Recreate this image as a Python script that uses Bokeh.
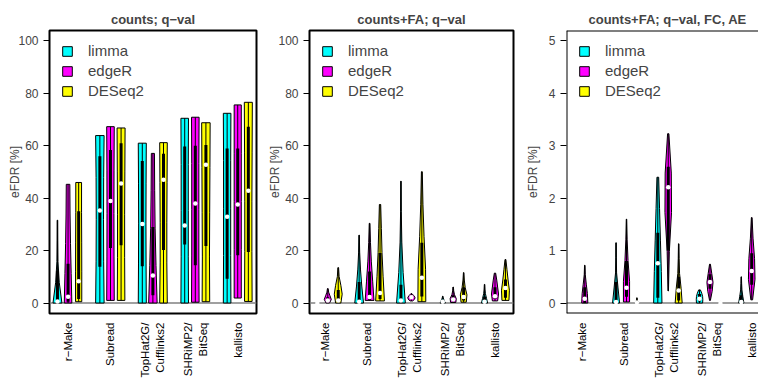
import numpy as np
from bokeh.plotting import figure
from bokeh.models import (ColumnDataSource, Span, Legend, LegendItem, FixedTicker, Range1d)
from bokeh.core.properties import value
from bokeh.layouts import row, column
from bokeh.embed import file_html
from bokeh.resources import INLINE

NAN = np.nan
FONT = "Liberation Sans"

categories = ["r\u2212Make", "Subread", "TopHat2G/\nCufflinks2", "SHRiMP2/\nBitSeq", "kallisto"]
methods = ["limma", "edgeR", "DESeq2"]
colors = ["#00FFFF", "#FF00FF", "#FFFF00"]
titles = ["counts; q\u2212val", "counts+FA; q\u2212val", "counts+FA; q\u2212val, FC, AE"]

# order: for each category -> limma, edgeR, DESeq2
# ---- panel 1: counts; q-val
p1_min = [0, 0, 0.5,   0, 1.0, 1.0,   0, 0, 0,   0, 0.3, 0.5,   0, 1.9, 0.6]
p1_q1 = [0, 0.5, 1.5,  13.8, 21, 22,  14, 3, 20.2,  22.3, 14.4, 21.8,  9.3, 18.2, 19.5]
p1_med = [0.6, 2.4, 8.3,  35.3, 38.9, 45.6,  30.2, 10.5, 47,  29.6, 38, 52.8,  32.9, 37.6, 42.8]
p1_q3 = [12.4, 15, 35,  56, 58.4, 61,  54.2, 29, 57,  59.7, 60, 60.3,  59, 59, 67.3]
p1_max = [31.6, 45.3, 46,  63.9, 67.3, 66.8,  61, 57.1, 61.2,  70.5, 70.9, 68.8,  72.4, 75.6, 76.6]
p1_shape = [
    [1.0, 0.4, 0.12, 0.08, 0.06], [0.85, 0.7, 0.55, 0.45, 0.4], [0.7, 0.7, 0.68, 0.65, 0.65],
    [0.95, 0.85, 0.82, 0.85, 0.95], [0.85, 0.8, 0.78, 0.8, 0.85], [0.85, 0.8, 0.8, 0.85, 0.9],
    [0.9, 0.85, 0.82, 0.85, 0.9], [0.95, 0.7, 0.5, 0.4, 0.35], [0.85, 0.75, 0.75, 0.8, 0.85],
    [0.85, 0.8, 0.8, 0.8, 0.85], [0.85, 0.8, 0.8, 0.8, 0.85], [0.85, 0.8, 0.85, 0.9, 0.95],
    [0.85, 0.8, 0.8, 0.8, 0.85], [0.8, 0.8, 0.8, 0.8, 0.8], [0.85, 0.8, 0.8, 0.85, 0.9],
]

# ---- panel 2: counts+FA; q-val
p2_min = [0, 0, 0,   0, 1.0, 0.8,   0, 0.8, 0.5,   0, 0.2, 0.3,   0, 0.8, 1.0]
p2_q1 = [0, 0.3, 0.3,   0, 1.2, 1.5,   0, 1.5, 2.5,   0, 0.6, 1.0,   0, 1.5, 2.0]
p2_med = [0, 1.0, 1.0,   0.5, 2.3, 3.8,   1.0, 2.2, 9.6,   0.5, 1.3, 2.3,   0.5, 2.6, 5.7]
p2_q3 = [0.1, 2.2, 5.0,   8, 12, 19.1,   7, 2.8, 23,   1.0, 3.0, 6.0,   2.5, 6.0, 9.0]
p2_max = [0.4, 5.5, 13.5,   25.9, 30.4, 37.6,   46.5, 3.6, 50.1,   2.6, 6.1, 11.6,   7.1, 11.4, 16.6]
p2_shape = [
    [0.3, 0.3, 0.2, 0.1, 0.05], [0.4, 0.8, 0.5, 0.2, 0.08], [0.6, 0.9, 0.6, 0.2, 0.08],
    [1.0, 0.6, 0.3, 0.12, 0.05], [1.0, 0.7, 0.4, 0.2, 0.08], [1.0, 0.7, 0.45, 0.3, 0.15],
    [1.0, 0.5, 0.2, 0.08, 0.04], [0.3, 0.75, 0.8, 0.5, 0.1], [0.9, 0.85, 0.5, 0.25, 0.1],
    [0.6, 0.4, 0.25, 0.12, 0.05], [0.6, 0.7, 0.3, 0.12, 0.05], [0.6, 0.75, 0.35, 0.15, 0.05],
    [0.7, 0.45, 0.2, 0.1, 0.05], [0.6, 0.8, 0.6, 0.4, 0.15], [0.8, 0.9, 0.6, 0.35, 0.1],
]

# ---- panel 3: counts+FA; q-val, FC, AE
p3_min = [NAN, 0, NAN,   0, 0.02, 0,   0, 0.23, 0,   0, 0.05, 0,   0, 0.06, NAN]
p3_q1 = [NAN, 0, NAN,   0, 0.12, 0,   0.1, 1.0, 0.05,   0.03, 0.27, 0,   0, 0.35, NAN]
p3_med = [NAN, 0.08, NAN,   0.02, 0.29, 0.01,   0.76, 2.21, 0.24,   0.08, 0.40, 0.0,   0.02, 0.61, NAN]
p3_q3 = [NAN, 0.3, NAN,   0.4, 0.8, 0.03,   1.34, 2.6, 0.5,   0.17, 0.55, 0.01,   0.15, 0.95, NAN]
p3_max = [NAN, 0.72, NAN,   1.15, 1.6, 0.1,   2.4, 3.23, 1.13,   0.25, 0.74, 0.03,   0.5, 1.63, NAN]
p3_shape = [
    None, [0.7, 0.6, 0.35, 0.12, 0.05], None,
    [0.8, 0.45, 0.12, 0.06, 0.04], [0.7, 0.7, 0.35, 0.15, 0.05], [0.4, 0.3, 0.1, 0.05, 0.02],
    [0.95, 0.8, 0.6, 0.4, 0.2], [0.05, 0.25, 0.75, 0.7, 0.15], [0.8, 0.55, 0.2, 0.1, 0.05],
    [0.7, 0.75, 0.7, 0.5, 0.2], [0.1, 0.5, 0.7, 0.4, 0.1], [0.3, 0.3, 0.2, 0.1, 0.05],
    [0.6, 0.35, 0.15, 0.08, 0.04], [0.2, 0.75, 0.65, 0.3, 0.08], None,
]

panels = [
    (p1_min, p1_q1, p1_med, p1_q3, p1_max, p1_shape),
    (p2_min, p2_q1, p2_med, p2_q3, p2_max, p2_shape),
    (p3_min, p3_q1, p3_med, p3_q3, p3_max, p3_shape),
]
y_limits = [(-4, 104), (-4, 104), (-0.2, 5.2)]
y_ticks = [[0, 20, 40, 60, 80, 100], [0, 20, 40, 60, 80, 100], [0, 1, 2, 3, 4, 5]]
HW = 0.42
TOP_B = 30
FRAME_H = 283
STRIP_H = 64
FIG_W = [265, 257, 236]
LEFT_B = [49, 41, 41]
X_END = [19.77, 19.77, 18.65]


def positions():
    return [1 + 4 * c + m for c in range(5) for m in range(3)]


def make_panel(k, xr):
    vmin, q1, med, q3, vmax, shapes = panels[k]
    last = (k == 2)
    y0, y1 = y_limits[k]
    p = figure(width=FIG_W[k], height=TOP_B + FRAME_H + 2, output_backend="svg", toolbar_location=None,
               x_range=xr, y_range=Range1d(y0, y1),
               min_border_left=LEFT_B[k], min_border_right=0 if last else 9,
               min_border_top=TOP_B, min_border_bottom=2)
    p.grid.visible = False
    p.background_fill_color = "white"
    p.border_fill_color = "white"
    if last:
        p.outline_line_color = None
    else:
        p.outline_line_color = "black"
        p.outline_line_width = 2

    p.title.text = titles[k]
    p.title.text_font = FONT
    p.title.text_font_size = "13px"
    p.title.text_font_style = "bold"
    p.title.standoff = 8
    if last:
        p.title.align = "left"
        p.title.offset = 22
    else:
        p.title.align = "center"

    # zero line
    p.add_layout(Span(location=0, dimension="width", line_color="#808080", line_width=1.5, level="underlay"))

    pos = positions()
    rends = []
    for m in range(3):
        xs, ys = [], []
        for c in range(5):
            i = 3 * c + m
            if np.isnan(vmax[i]):
                continue
            w = np.array(shapes[i]) * HW
            yy = np.linspace(vmin[i], vmax[i], len(w))
            xs.append(list(np.concatenate([pos[i] - w, (pos[i] + w)[::-1]])))
            ys.append(list(np.concatenate([yy, yy[::-1]])))
        src = ColumnDataSource(dict(xs=xs, ys=ys))
        r = p.patches("xs", "ys", source=src, fill_color=colors[m], line_color="black", line_width=1)
        rends.append(r)

    idx = [i for i in range(15) if not np.isnan(vmax[i])]
    src = ColumnDataSource(dict(
        x=[pos[i] for i in idx], lo=[vmin[i] for i in idx], hi=[vmax[i] for i in idx],
        q1=[q1[i] for i in idx], q3=[q3[i] for i in idx], med=[med[i] for i in idx]))
    p.segment(x0="x", y0="lo", x1="x", y1="hi", source=src, line_color="black", line_width=1)
    p.segment(x0="x", y0="q1", x1="x", y1="q3", source=src, line_color="black", line_width=3,
              line_cap="butt")
    p.scatter(x="x", y="med", source=src, size=4.5, fill_color="white", line_color=None)

    legend = Legend(items=[LegendItem(label=methods[m], renderers=[rends[m]]) for m in range(3)],
                    location="top_left", margin=12, padding=0, spacing=3,
                    glyph_width=12, glyph_height=12, label_standoff=15,
                    label_text_font=FONT, label_text_font_size="15px",
                    border_line_color=None, background_fill_alpha=0)
    p.add_layout(legend)

    ya = p.yaxis[0]
    ya.ticker = FixedTicker(ticks=y_ticks[k])
    ya.axis_label = "eFDR [%]"
    ya.axis_label_text_font = FONT
    ya.axis_label_text_font_size = "12px"
    ya.axis_label_text_font_style = "normal"
    ya.axis_label_standoff = 6 if last else -7
    ya.major_label_text_font = FONT
    ya.major_label_text_font_size = "12px"
    ya.major_label_standoff = 5
    ya.major_tick_in = 0
    ya.major_tick_out = 6
    ya.minor_tick_line_color = None
    ya.axis_line_color = None
    ya.major_tick_line_color = "black"

    p.xaxis.visible = False

    if last:
        for loc in (y0, y1):
            p.add_layout(Span(location=loc, dimension="width", line_color="black", line_width=2))
        p.add_layout(Span(location=0.25, dimension="height", line_color="black", line_width=2))
    return p


def make_strip(k, xr):
    last = (k == 2)
    s = figure(width=FIG_W[k], height=STRIP_H, output_backend="svg", toolbar_location=None,
               x_range=xr, y_range=Range1d(0, STRIP_H),
               min_border_left=LEFT_B[k], min_border_right=0 if last else 9,
               min_border_top=0, min_border_bottom=0)
    s.grid.visible = False
    s.axis.visible = False
    s.outline_line_color = None
    s.background_fill_color = "white"
    s.border_fill_color = "white"
    src = ColumnDataSource(dict(x=[2 + 4 * c for c in range(5)],
                                y=[STRIP_H - 7] * 5, text=categories))
    s.text(x="x", y="y", text="text", source=src, angle=np.pi / 2,
           text_align="right", text_baseline="middle",
           text_font=value(FONT), text_font_size=value("11.5px"), text_color="black",
           text_line_height=1.25)
    return s


xrs = [Range1d(0.25, X_END[k]) for k in range(3)]
top = row(*[make_panel(k, xrs[k]) for k in range(3)], spacing=0)
bottom = row(*[make_strip(k, xrs[k]) for k in range(3)], spacing=0)
layout = column(top, bottom, spacing=0)
open("out.html", "w").write(file_html(layout, INLINE))
